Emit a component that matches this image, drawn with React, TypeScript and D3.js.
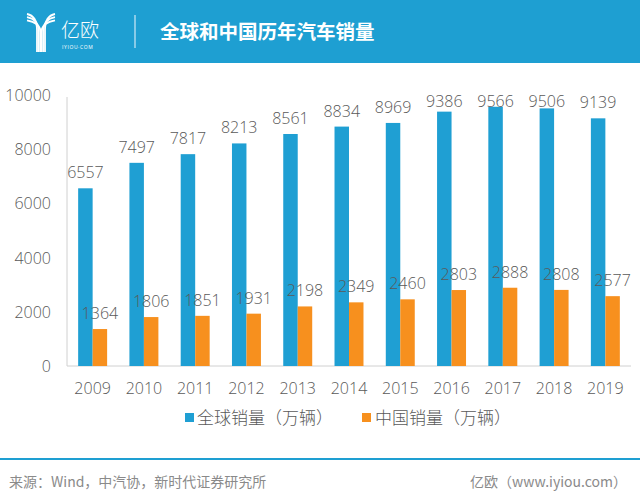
import React from "react";
import * as d3 from "d3";

const years = ["2009", "2010", "2011", "2012", "2013", "2014", "2015", "2016", "2017", "2018", "2019"];
const globalSales = [6557, 7497, 7817, 8213, 8561, 8834, 8969, 9386, 9566, 9506, 9139];
const chinaSales = [1364, 1806, 1851, 1931, 2198, 2349, 2460, 2803, 2888, 2808, 2577];
const yTicks = [0, 2000, 4000, 6000, 8000, 10000];
const seriesNames = ["全球销量（万辆）", "中国销量（万辆）"];
const title = "全球和中国历年汽车销量";
const sourceText = "来源：Wind，中汽协，新时代证券研究所";
const creditText = "亿欧（www.iyiou.com）";

const BLUE = "#1f9fd3";
const ORANGE = "#f7901e";
const TEXT = "#595959";
const NUM_FONT = "'Open Sans', 'Noto Sans', sans-serif";
const CJK_FONT = "'Noto Sans CJK SC', 'Noto Sans', sans-serif";

export default function App() {
  const W = 640, H = 500;
  const x = d3.scaleBand<string>().domain(years).range([67, 631]).paddingInner(0.435).paddingOuter(0.2175);
  const sub = d3.scaleBand<string>().domain(["g", "c"]).range([0, x.bandwidth()]);
  const y = d3.scaleLinear().domain([0, 10000]).range([366, 95]);
  const series = [
    { key: "g", values: globalSales, color: BLUE },
    { key: "c", values: chinaSales, color: ORANGE },
  ];

  // logo arcs
  const logoPaths: string[] = [];
  for (let i = 0; i < 3; i++) {
    const o = i * 3.2;
    logoPaths.push(`M${27} ${14 + o} Q${37 + o * 0.4} ${16 + o} ${37 + o * 0.6} ${30 + o * 0.3} L${37 + o * 0.6} 52`);
    logoPaths.push(`M${55} ${14 + o} Q${45 - o * 0.4} ${16 + o} ${45 - o * 0.6} ${30 + o * 0.3} L${45 - o * 0.6} 52`);
  }

  return (
    <svg width={W} height={H} style={{ position: "absolute", left: 0, top: 0, background: "#fff" }}>
      {/* header */}
      <rect x={0} y={0} width={W} height={63} fill="#1e9fd2" />
      {logoPaths.map((p, i) => (
        <path key={i} d={p} fill="none" stroke="#fff" strokeWidth={1.8} />
      ))}
      <text x={61} y={37} fill="#fff" fontFamily={CJK_FONT} fontSize={19} fontWeight={300}>亿欧</text>
      <text x={62} y={49} fill="#fff" fontFamily={NUM_FONT} fontSize={5} letterSpacing={0.6}>IYIOU·COM</text>
      <line x1={135} x2={135} y1={15} y2={48} stroke="#cfe9f6" strokeWidth={1.2} />
      <text x={160} y={39} fill="#fff" fontFamily={CJK_FONT} fontSize={19.5} fontWeight={700}>{title}</text>

      {/* axes */}
      <line x1={67} x2={67} y1={97} y2={366} stroke="#d0d0d0" strokeWidth={1} />
      <line x1={67} x2={631} y1={366} y2={366} stroke="#d0d0d0" strokeWidth={1} />
      {yTicks.map((t) => (
        <text key={t} x={51} y={y(t) + 6} textAnchor="end" fill={TEXT} fontFamily={NUM_FONT} fontWeight={300} fontSize={16}>
          {t}
        </text>
      ))}
      {years.map((yr) => (
        <text key={yr} x={(x(yr) ?? 0) + x.bandwidth() / 2} y={394} textAnchor="middle" fill={TEXT} fontFamily={NUM_FONT} fontWeight={300} fontSize={16}>
          {yr}
        </text>
      ))}

      {/* bars */}
      {series.map((s) =>
        years.map((yr, i) => {
          const bx = (x(yr) ?? 0) + (sub(s.key) ?? 0);
          const v = s.values[i];
          return (
            <rect key={s.key + yr} x={bx} y={y(v)} width={sub.bandwidth()} height={y(0) - y(v)} fill={s.color} />
          );
        })
      )}
      {series.map((s) =>
        years.map((yr, i) => {
          const bx = (x(yr) ?? 0) + (sub(s.key) ?? 0) + sub.bandwidth() / 2;
          const v = s.values[i];
          const by = Math.max(y(v) - 10, 107);
          return (
            <text key={"l" + s.key + yr} x={bx} y={by} textAnchor="middle" fill={TEXT} fontFamily={NUM_FONT} fontWeight={300} fontSize={16}>
              {v}
            </text>
          );
        })
      )}

      {/* legend */}
      <rect x={185} y={413} width={9} height={9} fill={BLUE} />
      <text x={197} y={424} fill={TEXT} fontFamily={CJK_FONT} fontSize={17} fontWeight={300}>{seriesNames[0]}</text>
      <rect x={362} y={413} width={9} height={9} fill={ORANGE} />
      <text x={375} y={424} fill={TEXT} fontFamily={CJK_FONT} fontSize={17} fontWeight={300}>{seriesNames[1]}</text>

      {/* footer */}
      <line x1={0} x2={W} y1={459} y2={459} stroke="#1e9fd2" strokeWidth={2} />
      <text x={9} y={487} fill="#8a8a8a" fontFamily={CJK_FONT} fontSize={14}>{sourceText}</text>
      <text x={627} y={487} textAnchor="end" fill="#8a8a8a" fontFamily={CJK_FONT} fontSize={14}>{creditText}</text>
    </svg>
  );
}
